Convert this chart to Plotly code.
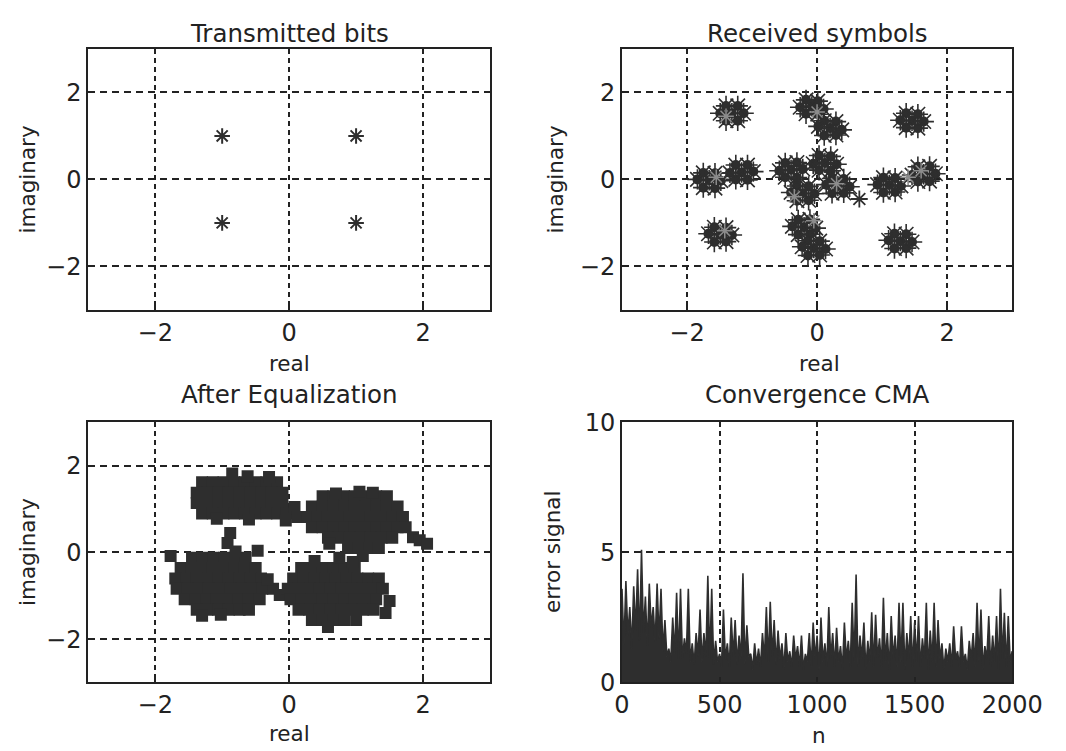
import plotly.graph_objects as go

# --- Transmitted bits (QPSK constellation) ---
tx_re = [-1, 1, -1, 1]
tx_im = [1, 1, -1, -1]

# --- Received symbols (one row per cluster) ---
rx_re = [
    -1.31, -1.49, -1.13, -1.40, -1.22, -1.40, -1.22,
    -0.08, -0.26, 0.10, -0.17, 0.01, -0.17, 0.01,
    0.20, 0.02, 0.38, 0.11, 0.29, 0.11, 0.29,
    1.46, 1.28, 1.64, 1.37, 1.55, 1.37, 1.55,
    -1.66, -1.84, -1.48, -1.75, -1.57, -1.75, -1.57,
    -1.16, -1.34, -0.98, -1.25, -1.07, -1.25, -1.07,
    -0.40, -0.58, -0.22, -0.49, -0.31, -0.49, -0.31,
    0.12, -0.06, 0.30, 0.03, 0.21, 0.03, 0.21,
    -0.22, -0.40, -0.04, -0.31, -0.13, -0.31, -0.13,
    0.32, 0.14, 0.50, 0.23, 0.41, 0.23, 0.41,
    1.11, 0.93, 1.29, 1.02, 1.20, 1.02, 1.20,
    1.64, 1.46, 1.82, 1.55, 1.73, 1.55, 1.73,
    -1.49, -1.67, -1.31, -1.58, -1.40, -1.58, -1.40,
    -0.20, -0.38, -0.02, -0.29, -0.11, -0.29, -0.11,
    -0.05, -0.23, 0.13, -0.14, 0.04, -0.14, 0.04,
    1.28, 1.10, 1.46, 1.19, 1.37, 1.19, 1.37,
]
rx_im = [
    1.52, 1.52, 1.52, 1.69, 1.69, 1.35, 1.35,
    1.68, 1.66, 1.62, 1.83, 1.80, 1.51, 1.50,
    1.18, 1.22, 1.14, 1.35, 1.33, 1.01, 1.02,
    1.35, 1.36, 1.33, 1.52, 1.50, 1.19, 1.18,
    -0.02, 0.00, -0.03, 0.15, 0.14, -0.19, -0.20,
    0.16, 0.15, 0.18, 0.33, 0.33, 0.00, -0.01,
    0.22, 0.20, 0.24, 0.38, 0.39, 0.05, 0.04,
    0.38, 0.36, 0.35, 0.55, 0.53, 0.21, 0.20,
    -0.32, -0.30, -0.33, -0.15, -0.16, -0.49, -0.48,
    -0.15, -0.12, -0.17, 0.02, 0.01, -0.32, -0.31,
    -0.13, -0.12, -0.15, 0.04, 0.03, -0.30, -0.29,
    0.12, 0.10, 0.13, 0.29, 0.30, -0.05, -0.04,
    -1.27, -1.25, -1.28, -1.10, -1.11, -1.44, -1.43,
    -1.10, -1.08, -1.12, -0.93, -0.92, -1.27, -1.26,
    -1.58, -1.55, -1.60, -1.41, -1.42, -1.75, -1.74,
    -1.42, -1.40, -1.44, -1.25, -1.26, -1.59, -1.58,
]
# a single stray symbol right of the centre
rx_lone_re = [0.65]
rx_lone_im = [-0.45]
# lighter samples scattered inside the clusters
rx_light_re = [-0.05, 0.30, -1.55, -1.42, 1.40, 0.00, -1.40, -0.35, 1.60]
rx_light_im = [-0.95, -0.10, 0.05, -1.18, 0.05, 1.55, 1.45, -0.40, 0.20]

# --- After equalization: four clouds ---
eqA_re = [-1.30, -1.14, -0.98, -0.82, -0.66, -0.50, -0.34, -0.18,
          -1.38, -1.22, -1.06, -0.90, -0.74, -0.58, -0.42, -0.26, -0.10,
          -1.38, -1.22, -1.06, -0.90, -0.74, -0.58, -0.42, -0.26, -0.10,
          -1.30, -1.14, -0.98, -0.82, -0.66, -0.50, -0.34, -0.18, -0.04,
          -0.85, -0.62, -0.30, 0.08, 0.12, -0.05, -0.88, -0.92, -1.08, -0.60]
eqA_im = [1.62, 1.62, 1.62, 1.62, 1.62, 1.62, 1.62, 1.62,
          1.38, 1.38, 1.38, 1.38, 1.38, 1.38, 1.38, 1.38, 1.38,
          1.14, 1.14, 1.14, 1.14, 1.14, 1.14, 1.14, 1.14, 1.14,
          0.90, 0.90, 0.90, 0.90, 0.90, 0.90, 0.90, 0.90, 0.90,
          1.82, 1.76, 1.74, 1.05, 0.82, 0.74, 0.45, 0.22, 0.78, 0.76]

eqB_re = [0.50, 0.66, 0.82, 0.98, 1.14, 1.30, 1.46,
          0.34, 0.50, 0.66, 0.82, 0.98, 1.14, 1.30, 1.46, 1.62,
          0.28, 0.42, 0.58, 0.74, 0.90, 1.06, 1.22, 1.38, 1.54, 1.70,
          0.34, 0.50, 0.66, 0.82, 0.98, 1.14, 1.30, 1.46, 1.62, 1.74,
          0.58, 0.74, 0.90, 1.06, 1.22, 1.38, 1.54,
          0.88, 1.04, 1.20, 1.34,
          1.05, 1.25, 0.70, 1.85, 1.95, 2.06, 1.10, 0.60]
eqB_im = [1.30, 1.30, 1.30, 1.30, 1.30, 1.30, 1.30,
          1.06, 1.06, 1.06, 1.06, 1.06, 1.06, 1.06, 1.06, 1.06,
          0.82, 0.82, 0.82, 0.82, 0.82, 0.82, 0.82, 0.82, 0.82, 0.82,
          0.58, 0.58, 0.58, 0.58, 0.58, 0.58, 0.58, 0.58, 0.58, 0.58,
          0.34, 0.34, 0.34, 0.34, 0.34, 0.34, 0.34,
          0.10, 0.10, 0.10, 0.10,
          1.40, 1.38, 1.36, 0.35, 0.28, 0.20, -0.08, 0.20]

eqC_re = [-1.45, -1.29, -1.13, -0.97, -0.81, -0.65,
          -1.62, -1.46, -1.30, -1.14, -0.98, -0.82, -0.66, -0.50,
          -1.70, -1.54, -1.38, -1.22, -1.06, -0.90, -0.74, -0.58, -0.42,
          -1.68, -1.52, -1.36, -1.20, -1.04, -0.88, -0.72, -0.56, -0.40, -0.24,
          -1.56, -1.40, -1.24, -1.08, -0.92, -0.76, -0.60, -0.44,
          -1.38, -1.22, -1.06, -0.90, -0.74, -0.60,
          -1.77, -0.47, -0.14, -1.30, -1.02, -0.80, -0.32]
eqC_im = [-0.12, -0.12, -0.12, -0.12, -0.12, -0.12,
          -0.36, -0.36, -0.36, -0.36, -0.36, -0.36, -0.36, -0.36,
          -0.60, -0.60, -0.60, -0.60, -0.60, -0.60, -0.60, -0.60, -0.60,
          -0.84, -0.84, -0.84, -0.84, -0.84, -0.84, -0.84, -0.84, -0.84, -0.84,
          -1.08, -1.08, -1.08, -1.08, -1.08, -1.08, -1.08, -1.08,
          -1.32, -1.32, -1.32, -1.32, -1.32, -1.32,
          -0.08, 0.04, -0.98, -1.46, -1.44, 0.02, -0.62]

eqD_re = [0.18, 0.34, 0.50, 0.66, 0.82, 0.98,
          0.06, 0.22, 0.38, 0.54, 0.70, 0.86, 1.02, 1.18, 1.34,
          -0.02, 0.14, 0.30, 0.46, 0.62, 0.78, 0.94, 1.10, 1.26, 1.40,
          0.02, 0.18, 0.34, 0.50, 0.66, 0.82, 0.98, 1.14, 1.30,
          0.14, 0.30, 0.46, 0.62, 0.78, 0.94, 1.10, 1.26,
          0.34, 0.50, 0.66, 0.82, 1.00,
          1.50, 1.44, 0.58, 0.38, 0.75, 0.95]
eqD_im = [-0.36, -0.36, -0.36, -0.36, -0.36, -0.36,
          -0.60, -0.60, -0.60, -0.60, -0.60, -0.60, -0.60, -0.60, -0.60,
          -0.84, -0.84, -0.84, -0.84, -0.84, -0.84, -0.84, -0.84, -0.84, -0.84,
          -1.08, -1.08, -1.08, -1.08, -1.08, -1.08, -1.08, -1.08, -1.08,
          -1.32, -1.32, -1.32, -1.32, -1.32, -1.32, -1.32, -1.32,
          -1.56, -1.56, -1.56, -1.56, -1.56,
          -1.12, -1.40, -1.72, -0.20, -0.12, -0.22]

# --- Convergence of CMA: error signal, sampled every 10 iterations ---
err_n = list(range(0, 2001, 10))
err_val = [
    3.6, 1.4, 3.9, 1.8, 2.9, 1.3, 3.7, 2.0, 4.35, 1.6,
    5.1, 1.9, 3.3, 1.4, 3.8, 2.1, 2.9, 1.5, 3.8, 1.7,
    3.6, 1.2, 2.4, 1.0, 1.3, 0.8, 2.5, 1.1, 3.45, 0.9,
    3.6, 0.9, 1.7, 1.1, 3.6, 0.8, 1.5, 0.7, 1.9, 1.0,
    2.8, 0.8, 1.9, 1.0, 4.1, 0.9, 3.6, 0.7, 1.6, 0.8,
    1.1, 0.6, 2.8, 0.9, 1.5, 0.6, 2.5, 1.0, 2.4, 0.7,
    1.8, 0.9, 4.2, 0.7, 2.2, 1.0, 1.1, 0.5, 1.5, 0.7,
    1.3, 0.6, 1.9, 0.9, 2.9, 0.8, 3.1, 1.0, 2.4, 0.7,
    2.0, 0.9, 1.5, 0.5, 1.9, 0.8, 1.2, 0.6, 1.8, 0.9,
    1.4, 0.6, 1.8, 0.5, 1.1, 0.8, 1.9, 0.6, 2.3, 0.9,
    1.8, 0.5, 2.5, 0.8, 1.5, 0.6, 2.9, 0.9, 1.9, 0.6,
    2.1, 0.8, 1.4, 0.5, 2.3, 0.9, 1.6, 0.6, 3.06, 0.8,
    4.15, 0.6, 1.8, 0.9, 2.3, 0.5, 1.6, 0.8, 2.7, 0.6,
    2.6, 0.9, 1.7, 0.6, 3.26, 0.8, 1.9, 0.5, 2.55, 0.9,
    1.8, 0.6, 3.06, 0.8, 3.06, 0.5, 1.9, 0.9, 2.55, 0.6,
    2.3, 0.8, 2.55, 0.6, 1.7, 0.9, 3.06, 0.5, 2.0, 0.8,
    3.06, 0.6, 2.4, 0.9, 1.5, 0.5, 1.3, 0.8, 1.5, 0.6,
    2.16, 0.9, 1.2, 0.6, 2.16, 0.8, 1.1, 0.5, 1.6, 0.9,
    1.9, 0.6, 3.06, 0.8, 2.8, 0.5, 1.4, 0.9, 2.55, 0.6,
    1.8, 0.8, 2.55, 0.5, 3.6, 0.9, 2.68, 0.6, 2.55, 0.8,
    1.2,
]

INK = "#2e2e2e"
FAM = "DejaVu Sans, Arial, sans-serif"
TICKFONT = dict(family=FAM, size=24, color="#222")
LABELFONT = dict(family=FAM, size=21.5, color="#222")
TITLEFONT = dict(family=FAM, size=24.5, color="#222")

fig = go.Figure()

fig.add_trace(go.Scatter(x=tx_re, y=tx_im, mode="markers", xaxis="x", yaxis="y",
                         marker=dict(symbol="asterisk-open", size=13, color=INK,
                                     line=dict(width=2, color=INK))))

fig.add_trace(go.Scatter(x=rx_re, y=rx_im, mode="markers", xaxis="x2", yaxis="y2",
                         marker=dict(symbol="circle", size=10, color=INK, line=dict(width=0))))
fig.add_trace(go.Scatter(x=rx_re, y=rx_im, mode="markers", xaxis="x2", yaxis="y2",
                         marker=dict(symbol="asterisk-open", size=17, color=INK,
                                     line=dict(width=1.6, color=INK))))
fig.add_trace(go.Scatter(x=rx_lone_re, y=rx_lone_im, mode="markers", xaxis="x2", yaxis="y2",
                         marker=dict(symbol="asterisk-open", size=14, color=INK,
                                     line=dict(width=1.8, color=INK))))
fig.add_trace(go.Scatter(x=rx_light_re, y=rx_light_im, mode="markers", xaxis="x2", yaxis="y2",
                         marker=dict(symbol="asterisk-open", size=13, color="#8c8c8c",
                                     line=dict(width=1.5, color="#8c8c8c"))))

for ex, ey in [(eqA_re, eqA_im), (eqB_re, eqB_im), (eqC_re, eqC_im), (eqD_re, eqD_im)]:
    fig.add_trace(go.Scatter(x=ex, y=ey, mode="markers", xaxis="x3", yaxis="y3",
                             marker=dict(symbol="square", size=12, color=INK, line=dict(width=0))))

fig.add_trace(go.Scatter(x=err_n, y=err_val, mode="lines", xaxis="x4", yaxis="y4",
                         fill="tozeroy", fillcolor=INK,
                         line=dict(color=INK, width=1.6)))


def axis(domain, rng, tickvals, anchor, dash):
    return dict(domain=domain, range=rng, tickvals=tickvals, anchor=anchor,
                showline=True, mirror="ticks", linecolor="#222", linewidth=2,
                showgrid=True, gridcolor="#222", gridwidth=2, griddash=dash,
                zeroline=False, ticks="inside", ticklen=5, tickwidth=1.5, tickcolor="#222",
                tickfont=TICKFONT, ticklabelstandoff=0)


W, H = 1066, 751
# plot boxes, in page pixels
xl = [75 / W, 492 / W]
xr = [629 / W, 1034 / W]
yt = [1 - 299 / H, 1 - 28 / H]
yb = [1 - 686 / H, 1 - 416 / H]
VDASH = "5px,4px"
HDASH = "7px,5px"
iq = [-3, 3]
iq_ticks = [-2, 0, 2]

fig.update_layout(
    width=W, height=H, autosize=False, showlegend=False,
    margin=dict(l=0, r=0, t=0, b=0),
    paper_bgcolor="white", plot_bgcolor="white", font=TICKFONT,
    xaxis=axis(xl, iq, iq_ticks, "y", VDASH),
    yaxis=axis(yt, iq, iq_ticks, "x", HDASH),
    xaxis2=axis(xr, iq, iq_ticks, "y2", VDASH),
    yaxis2=axis(yt, iq, iq_ticks, "x2", HDASH),
    xaxis3=axis(xl, iq, iq_ticks, "y3", VDASH),
    yaxis3=axis(yb, iq, iq_ticks, "x3", HDASH),
    xaxis4=axis(xr, [0, 2000], [0, 500, 1000, 1500, 2000], "y4", VDASH),
    yaxis4=axis(yb, [0, 10], [0, 5, 10], "x4", HDASH),
)

# subplot titles
titles = [("Transmitted bits", 284, 12), ("Received symbols", 832, 12),
          ("After Equalization", 284, 387), ("Convergence CMA", 832, 387)]
for text, xpx, ypx in titles:
    fig.add_annotation(text=text, xref="paper", yref="paper", x=xpx / W, y=1 - ypx / H,
                       xanchor="center", yanchor="middle", showarrow=False, font=TITLEFONT)

# axis labels
xlabels = [("real", 284, 355), ("real", 834, 355), ("real", 284, 739), ("n", 834, 741)]
for text, xpx, ypx in xlabels:
    fig.add_annotation(text=text, xref="paper", yref="paper", x=xpx / W, y=1 - ypx / H,
                       xanchor="center", yanchor="middle", showarrow=False, font=LABELFONT)
ylabels = [("imaginary", 12, 164), ("imaginary", 560, 164),
           ("imaginary", 12, 551), ("error signal", 557, 551)]
for text, xpx, ypx in ylabels:
    fig.add_annotation(text=text, xref="paper", yref="paper", x=xpx / W, y=1 - ypx / H,
                       xanchor="center", yanchor="middle", textangle=-90,
                       showarrow=False, font=LABELFONT)

fig.write_html("out.html")
